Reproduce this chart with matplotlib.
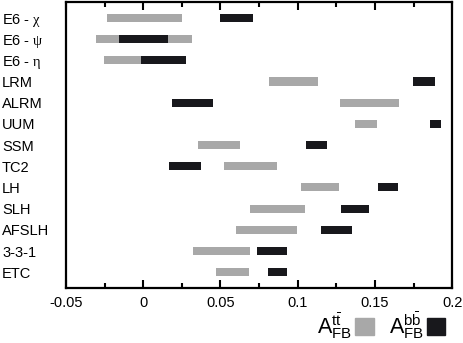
import matplotlib.pyplot as plt
from matplotlib.patches import Patch
from matplotlib.ticker import MultipleLocator

plt.rcParams['font.family'] = ['Liberation Sans', 'DejaVu Sans']
plt.rcParams['mathtext.fontset'] = 'custom'
plt.rcParams['mathtext.rm'] = 'Liberation Sans'
plt.rcParams['mathtext.it'] = 'Liberation Serif'

models = [r'E6 - $\chi$', r'E6 - $\psi$', r'E6 - $\eta$', 'LRM', 'ALRM', 'UUM',
          'SSM', 'TC2', 'LH', 'SLH', 'AFSLH', '3-3-1', 'ETC']

# A_FB^tt ranges (low, high)
tt_lo = [-0.0236, -0.0308, -0.0254, 0.0815, 0.1275, 0.1374, 0.0353, 0.0525,
         0.1020, 0.0690, 0.0603, 0.0325, 0.0474]
tt_hi = [0.0253, 0.0316, 0.0000, 0.1134, 0.1659, 0.1516, 0.0629, 0.0864,
         0.1266, 0.1046, 0.0994, 0.0692, 0.0687]
# A_FB^bb ranges (low, high)
bb_lo = [0.0499, -0.0157, -0.0012, 0.1747, 0.0185, 0.1860, 0.1056, 0.0167,
         0.1523, 0.1281, 0.1152, 0.0737, 0.0810]
bb_hi = [0.0713, 0.0159, 0.0277, 0.1888, 0.0454, 0.1931, 0.1192, 0.0374,
         0.1648, 0.1464, 0.1354, 0.0933, 0.0929]

gray = '#a8a8a8'
black = '#18181c'

fig = plt.figure(figsize=(4.63, 3.43), dpi=100)
ax = fig.add_axes([0.1425, 0.160, 0.834, 0.834])

ypos = list(range(len(models)))
h = 0.38
ax.barh(ypos, [b - a for a, b in zip(tt_lo, tt_hi)], left=tt_lo, height=h,
        color=gray, edgecolor='none')
ax.barh(ypos, [b - a for a, b in zip(bb_lo, bb_hi)], left=bb_lo, height=h,
        color=black, edgecolor='none')

ax.set_xlim(-0.05, 0.2)
ax.set_ylim(len(models) - 0.25, -0.75)
ax.set_yticks(ypos)
ax.set_yticklabels(models, fontsize=10.5, ha='left')
ax.tick_params(axis='y', length=0, pad=46)

ax.xaxis.set_major_locator(MultipleLocator(0.05))
ax.xaxis.set_minor_locator(MultipleLocator(0.025))
ax.set_xticks([-0.05, 0, 0.05, 0.1, 0.15, 0.2])
ax.set_xticklabels(['-0.05', '0', '0.05', '0.1', '0.15', '0.2'], fontsize=10.5)
ax.tick_params(axis='x', which='both', direction='in', top=True, width=1.5, pad=6)
ax.tick_params(axis='x', which='major', length=6)
ax.tick_params(axis='x', which='minor', length=3.5)
for s in ax.spines.values():
    s.set_linewidth(1.6)

handles = [Patch(color=gray), Patch(color=black)]
labels = [r'$\mathrm{A}_{\mathrm{FB}}^{\mathrm{t}\bar{\mathrm{t}}}$',
          r'$\mathrm{A}_{\mathrm{FB}}^{\mathrm{b}\bar{\mathrm{b}}}$']
fig.legend(handles, labels, loc='lower right', bbox_to_anchor=(0.985, -0.025),
           ncol=2, frameon=False, markerfirst=False, fontsize=15.5,
           handlelength=0.85, handleheight=0.85, handletextpad=0.15,
           columnspacing=0.7, borderaxespad=0.1)

fig.savefig('out.png', dpi=100)
